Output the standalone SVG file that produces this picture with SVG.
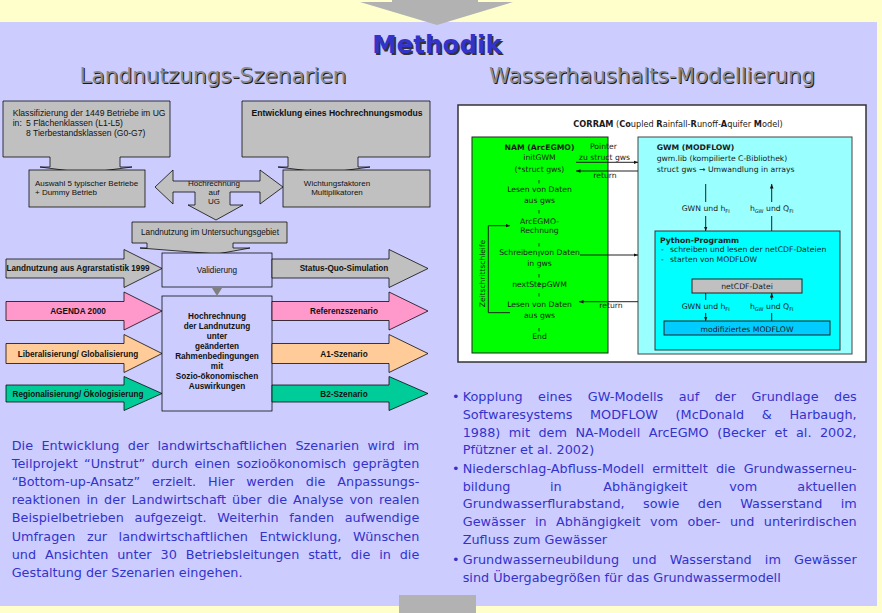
<svg xmlns="http://www.w3.org/2000/svg" width="882" height="613" viewBox="0 0 882 613">
<style>
.lt{font-family:"Liberation Sans",Arial,sans-serif;font-size:8.2px;fill:#111}
.lb{font-family:"Liberation Sans",Arial,sans-serif;font-size:8.2px;font-weight:bold;fill:#111}
.rt{font-family:"DejaVu Sans",Verdana,sans-serif;font-size:7.7px;fill:#1a1a1a}
.b{font-weight:bold}
.para{font-family:"DejaVu Sans",Verdana,sans-serif;font-size:12.8px;fill:#3333CC}
.g{fill:#C0C0C0;stroke:#000;stroke-width:0.75}
.lav{fill:#CCCCFF;stroke:#000;stroke-width:0.75}
.c{text-anchor:middle}
.ln{stroke:#222;stroke-width:1;fill:none}
.tk{stroke:#222;stroke-width:0.8}
.sub{font-size:5px}
.head{font-family:"DejaVu Sans",Verdana,sans-serif;font-size:21px;text-anchor:middle}
</style>
<defs>
<marker id="ah" viewBox="0 0 10 10" refX="10" refY="5" markerWidth="4.5" markerHeight="4.5" orient="auto-start-reverse"><path d="M0,1 L10,5 L0,9 z" fill="#111"/></marker>
</defs>

<g id="background">
<rect width="882" height="613" fill="#FFFFCC"/>
<rect x="0" y="22" width="877" height="584" fill="#CCCCFF"/>
<polygon points="392,0 478,0 478,2 513,2 437,25 360,2 392,2" fill="#B2B2B2"/>
<rect x="399" y="595" width="77" height="18" fill="#B2B2B2"/>
</g>

<g id="titles">
<text x="438.5" y="54.5" text-anchor="middle" font-family="DejaVu Sans,Verdana,sans-serif" font-weight="bold" font-size="24.6" fill="#333">Methodik</text>
<text x="437" y="53" text-anchor="middle" font-family="DejaVu Sans,Verdana,sans-serif" font-weight="bold" font-size="24.6" fill="#3333CC">Methodik</text>
<text class="head" x="214" y="84" fill="#1a1a1a" textLength="267" lengthAdjust="spacingAndGlyphs">Landnutzungs-Szenarien</text>
<text class="head" x="213" y="83" fill="#8c8c8c" textLength="267" lengthAdjust="spacingAndGlyphs">Landnutzungs-Szenarien</text>
<text class="head" x="653" y="84" fill="#1a1a1a" textLength="326" lengthAdjust="spacingAndGlyphs">Wasserhaushalts-Modellierung</text>
<text class="head" x="652" y="83" fill="#8c8c8c" textLength="326" lengthAdjust="spacingAndGlyphs">Wasserhaushalts-Modellierung</text>
</g>

<!-- Left diagram -->
<g id="klassifizierung">
<path class="g" d="M3,101 H170 V157 H120 V167 H132 L86,173 L40,167 H50 V157 H3 Z"/>
<text class="lt" style="font-size:8.6px" x="12.7" y="115.7">Klassifizierung der 1449 Betriebe im UG</text>
<text class="lt" style="font-size:8.6px" x="12.7" y="125.7">in:</text>
<text class="lt" style="font-size:8.6px" x="26" y="125.7">5 Flächenklassen (L1-L5)</text>
<text class="lt" style="font-size:8.6px" x="26" y="135.7">8 Tierbestandsklassen (G0-G7)</text>
</g>
<g id="entwicklung">
<path class="g" d="M242,101 H430 V157 H358 V167 H370 L326,173 L278,167 H288 V157 H242 Z"/>
<text class="lb c" style="font-size:8.6px" x="337" y="116">Entwicklung eines Hochrechnungsmodus</text>
</g>
<g id="auswahl">
<rect class="g" x="29" y="170" width="116" height="37"/>
<text class="lt" style="font-size:8px" x="35" y="185.7">Auswahl 5 typischer Betriebe</text>
<text class="lt" style="font-size:8px" x="35" y="195">+ Dummy Betrieb</text>
</g>
<g id="wichtung">
<rect class="g" x="283" y="170" width="147" height="37"/>
<text class="lt c" style="font-size:8px" x="337" y="185.7">Wichtungsfaktoren</text>
<text class="lt c" style="font-size:8px" x="337" y="195">Multiplikatoren</text>
</g>
<g id="hochrechnung-ug">
<path class="g" d="M155,187 L173,170 V181 H260 V170 L283,187 L260,204 V192 H230 V205 H243 L216,220 L188,205 H195 V192 H173 V204 Z"/>
<text class="lt c" style="font-size:8px" x="214" y="186">Hochrechnung</text>
<text class="lt c" style="font-size:8px" x="214" y="195">auf</text>
<text class="lt c" style="font-size:8px" x="214" y="203.5">UG</text>
</g>
<g id="landnutzung-ug">
<path class="g" d="M132,222 H287 V243 H233 V248 H250 L217,254 L140,248 H147 V243 H132 Z"/>
<text class="lt c" x="210" y="235">Landnutzung im Untersuchungsgebiet</text>
</g>
<g id="validierung">
<rect class="lav" x="162" y="253" width="110" height="34"/>
<text class="lt c" x="217" y="273">Validierung</text>
</g>
<g id="hochrechnung-box">
<rect class="lav" x="162" y="296" width="110" height="115"/>
<text class="lb c" x="217" y="318.5">Hochrechnung</text>
<text class="lb c" x="217" y="328.5">der Landnutzung</text>
<text class="lb c" x="217" y="338.5">unter</text>
<text class="lb c" x="217" y="348.5">geänderten</text>
<text class="lb c" x="217" y="358.5">Rahmenbedingungen</text>
<text class="lb c" x="217" y="368.5">mit</text>
<text class="lb c" x="217" y="378.5">Sozio-ökonomischen</text>
<text class="lb c" x="217" y="388.5">Auswirkungen</text>
</g>
<g id="agrarstatistik">
<polygon class="g" points="6,259 124,259 124,249.5 162,268.5 124,287.5 124,278 6,278"/>
<text class="lb c" x="78" y="271">Landnutzung aus Agrarstatistik 1999</text>
</g>
<g id="status-quo">
<polygon class="g" points="272,259 389,259 389,249.5 428,268.5 389,287.5 389,278 272,278"/>
<text class="lb c" x="344" y="271">Status-Quo-Simulation</text>
</g>
<g id="agenda">
<polygon points="6,301.5 124,301.5 124,292 162,311 124,330 124,320.5 6,320.5" fill="#FF99CC" stroke="#000" stroke-width="0.75"/>
<text class="lb c" x="78" y="314">AGENDA 2000</text>
</g>
<g id="referenz">
<polygon points="272,301.5 389,301.5 389,292 428,311 389,330 389,320.5 272,320.5" fill="#FF99CC" stroke="#000" stroke-width="0.75"/>
<text class="lb c" x="344" y="314">Referenzszenario</text>
</g>
<g id="liberalisierung">
<polygon points="6,343.5 124,343.5 124,334.5 162,353.5 124,372.5 124,363.5 6,363.5" fill="#FFCC99" stroke="#000" stroke-width="0.75"/>
<text class="lb c" x="78" y="356.5">Liberalisierung/ Globalisierung</text>
</g>
<g id="a1">
<polygon points="272,343.5 389,343.5 389,334.5 428,353.5 389,372.5 389,363.5 272,363.5" fill="#FFCC99" stroke="#000" stroke-width="0.75"/>
<text class="lb c" x="344" y="356.5">A1-Szenario</text>
</g>
<g id="regionalisierung">
<polygon points="6,385 124,385 124,376.5 162,393.5 124,410.5 124,402 6,402" fill="#00CC99" stroke="#000" stroke-width="0.75"/>
<text class="lb c" x="78" y="396.5">Regionalisierung/ Ökologisierung</text>
</g>
<g id="b2">
<polygon points="272,385 389,385 389,376.5 428,393.5 389,410.5 389,402 272,402" fill="#00CC99" stroke="#000" stroke-width="0.75"/>
<text class="lb c" x="344" y="396.5">B2-Szenario</text>
</g>
<g id="val-arrow">
<polygon points="212,288 222,288 217,296" fill="#7f7f7f"/>
</g>

<!-- Right diagram -->
<g id="corram">
<rect x="458" y="105" width="408" height="257" fill="#FFFFFF" stroke="#333" stroke-width="1.5"/>
<text class="rt c" style="font-size:8.2px" x="678" y="126.7"><tspan class="b">CORRAM</tspan> (<tspan class="b">Co</tspan>upled <tspan class="b">R</tspan>ainfall-<tspan class="b">R</tspan>unoff-<tspan class="b">A</tspan>quifer <tspan class="b">M</tspan>odel)</text>
</g>
<g id="nam">
<rect x="472" y="137" width="136" height="216" fill="#00FF00" stroke="#222" stroke-width="1"/>
<text class="rt c b" x="539.5" y="149.5">NAM (ArcEGMO)</text>
<text class="rt c" x="539.5" y="160">initGWM</text>
<text class="rt c" x="539.5" y="171.5">(*struct gws)</text>
<text class="rt c" x="539.5" y="192">Lesen von Daten</text>
<text class="rt c" x="539.5" y="202.5">aus gws</text>
<text class="rt c" x="539.5" y="223.5">ArcEGMO-</text>
<text class="rt c" x="539.5" y="233.3">Rechnung</text>
<text class="rt c" x="539.5" y="254.5">Schreiben von Daten</text>
<text class="rt c" x="539.5" y="265.5">in gws</text>
<text class="rt c" x="539.5" y="287">nextStepGWM</text>
<text class="rt c" x="539.5" y="307.2">Lesen von Daten</text>
<text class="rt c" x="539.5" y="318">aus gws</text>
<text class="rt c" x="539.5" y="338.7">End</text>
<text class="rt c" transform="translate(484.5,273.5) rotate(-90)" x="0" y="0" style="font-size:7.5px">Zeitschrittschleife</text>
</g>
<g id="gwm">
<rect x="638" y="137" width="214" height="217" fill="#99FFFF" stroke="#444" stroke-width="1"/>
<text class="rt b" x="656.7" y="150">GWM (MODFLOW)</text>
<text class="rt" x="656.7" y="160.7">gwm.lib (kompilierte C-Bibliothek)</text>
<text class="rt" x="656.7" y="171.7">struct gws → Umwandlung in arrays</text>
</g>
<g id="python">
<rect x="655" y="231" width="185" height="119" fill="#00FFFF" stroke="#333" stroke-width="1"/>
<text class="rt b" x="660" y="242.7">Python-Programm</text>
<text class="rt" x="661" y="251.7">-</text>
<text class="rt" x="670" y="251.7">schreiben und lesen der netCDF-Dateien</text>
<text class="rt" x="661" y="261.7">-</text>
<text class="rt" x="670" y="261.7">starten von MODFLOW</text>
</g>
<g id="netcdf">
<rect x="692" y="279" width="110" height="14" fill="#C0C0C0" stroke="#222" stroke-width="1"/>
<text class="rt c" x="747" y="289.3">netCDF-Datei</text>
</g>
<g id="modflow-mod">
<rect x="664" y="321" width="166" height="14" fill="#00CCFF" stroke="#222" stroke-width="1"/>
<text class="rt c" x="747" y="331.7">modifiziertes MODFLOW</text>
</g>

<g id="connectors">
<line class="ln" x1="576" y1="162.3" x2="638" y2="162.3" marker-end="url(#ah)"/>
<line class="ln" x1="638" y1="171" x2="576" y2="171" marker-end="url(#ah)"/>
<line class="ln" x1="580" y1="255" x2="638" y2="255" marker-end="url(#ah)"/>
<line class="ln" x1="638" y1="301.7" x2="579" y2="301.7" marker-end="url(#ah)"/>
<line class="ln" x1="705.7" y1="184" x2="705.7" y2="202"/>
<line class="ln" x1="705.7" y1="216" x2="705.7" y2="231" marker-end="url(#ah)"/>
<line class="ln" x1="771.7" y1="231" x2="771.7" y2="216"/>
<line class="ln" x1="771.7" y1="202" x2="771.7" y2="184" marker-end="url(#ah)"/>
<line class="ln" x1="705.7" y1="293" x2="705.7" y2="300"/>
<line class="ln" x1="705.7" y1="313" x2="705.7" y2="321" marker-end="url(#ah)"/>
<line class="ln" x1="771.7" y1="321" x2="771.7" y2="313"/>
<line class="ln" x1="771.7" y1="300" x2="771.7" y2="293" marker-end="url(#ah)"/>
<polyline class="ln" points="510,312.7 488.3,312.7 488.3,225.7 510,225.7" marker-end="url(#ah)"/>
<line class="tk" x1="539" y1="180" x2="539" y2="183.5"/>
<line class="tk" x1="539" y1="210" x2="539" y2="213.5"/>
<line class="tk" x1="539" y1="243" x2="539" y2="246.5"/>
<line class="tk" x1="539" y1="251" x2="539" y2="256.5"/>
<line class="tk" x1="539" y1="274" x2="539" y2="277.5"/>
<line class="tk" x1="539" y1="282" x2="539" y2="287"/>
<line class="tk" x1="539" y1="293" x2="539" y2="296.5"/>
<line class="tk" x1="539" y1="328" x2="539" y2="331.5"/>
<text class="rt c" x="603.5" y="149.3">Pointer</text>
<text class="rt c" x="604.5" y="160">zu struct gws</text>
<text class="rt c" x="605" y="178.3">return</text>
<text class="rt c" x="611" y="307.7">return</text>
<text class="rt c" x="705.7" y="210.7">GWN und h<tspan class="sub" dy="2">FI</tspan></text>
<text class="rt c" x="771.7" y="210.7">h<tspan class="sub" dy="2">GW</tspan><tspan dy="-2"> und Q</tspan><tspan class="sub" dy="2">FI</tspan></text>
<text class="rt c" x="705.7" y="309.3">GWN und h<tspan class="sub" dy="2">FI</tspan></text>
<text class="rt c" x="771.7" y="309.3">h<tspan class="sub" dy="2">GW</tspan><tspan dy="-2"> und Q</tspan><tspan class="sub" dy="2">FI</tspan></text>
</g>

<g id="text-left">
<text class="para" x="11.7" y="450" word-spacing="4.4" textLength="407.6" lengthAdjust="spacing">Die Entwicklung der landwirtschaftlichen Szenarien wird im</text>
<text class="para" x="11.7" y="468.1" word-spacing="2.1" textLength="407.6" lengthAdjust="spacing">Teilprojekt “Unstrut” durch einen sozioökonomisch geprägten</text>
<text class="para" x="11.7" y="486.2" word-spacing="7.8" textLength="407.6" lengthAdjust="spacing">“Bottom-up-Ansatz” erzielt. Hier werden die Anpassungs-</text>
<text class="para" x="11.7" y="504.3" word-spacing="1.9" textLength="407.6" lengthAdjust="spacing">reaktionen in der Landwirtschaft über die Analyse von realen</text>
<text class="para" x="11.7" y="522.4" word-spacing="6.6" textLength="407.6" lengthAdjust="spacing">Beispielbetrieben aufgezeigt. Weiterhin fanden aufwendige</text>
<text class="para" x="11.7" y="540.5" word-spacing="7.5" textLength="407.6" lengthAdjust="spacing">Umfragen zur landwirtschaftlichen Entwicklung, Wünschen</text>
<text class="para" x="11.7" y="558.6" word-spacing="4.8" textLength="407.6" lengthAdjust="spacing">und Ansichten unter 30 Betriebsleitungen statt, die in die</text>
<text class="para" x="11.7" y="576.7">Gestaltung der Szenarien eingehen.</text>
</g>

<g id="text-right">
<text class="para" x="452" y="400.7">•</text>
<text class="para" x="462.7" y="400.7" word-spacing="11.3" textLength="394" lengthAdjust="spacing">Kopplung eines GW-Modells auf der Grundlage des</text>
<text class="para" x="462.7" y="418.7" word-spacing="13.5" textLength="394" lengthAdjust="spacing">Softwaresystems MODFLOW (McDonald &amp; Harbaugh,</text>
<text class="para" x="462.7" y="436.7" word-spacing="4.4" textLength="394" lengthAdjust="spacing">1988) mit dem NA-Modell ArcEGMO (Becker et al. 2002,</text>
<text class="para" x="462.7" y="454.4">Pfützner et al. 2002)</text>
<text class="para" x="452" y="472.7">•</text>
<text class="para" x="462.7" y="472.7" word-spacing="4.1" textLength="394" lengthAdjust="spacing">Niederschlag-Abfluss-Modell ermittelt die Grundwasserneu-</text>
<text class="para" x="462.7" y="490.7">bildung</text>
<text class="para" x="550" y="490.7">in</text>
<text class="para" x="603.3" y="490.7">Abhängigkeit</text>
<text class="para" x="729.3" y="490.7">vom</text>
<text class="para" x="856.7" y="490.7" text-anchor="end">aktuellen</text>
<text class="para" x="462.7" y="508.4" word-spacing="14.2" textLength="394" lengthAdjust="spacing">Grundwasserflurabstand, sowie den Wasserstand im</text>
<text class="para" x="462.7" y="526.1" word-spacing="5.3" textLength="394" lengthAdjust="spacing">Gewässer in Abhängigkeit vom ober- und unterirdischen</text>
<text class="para" x="462.7" y="544">Zufluss zum Gewässer</text>
<text class="para" x="452" y="564">•</text>
<text class="para" x="462.7" y="564" word-spacing="9" textLength="394" lengthAdjust="spacing">Grundwasserneubildung und Wasserstand im Gewässer</text>
<text class="para" x="462.7" y="581.7">sind Übergabegrößen für das Grundwassermodell</text>
</g>
</svg>
